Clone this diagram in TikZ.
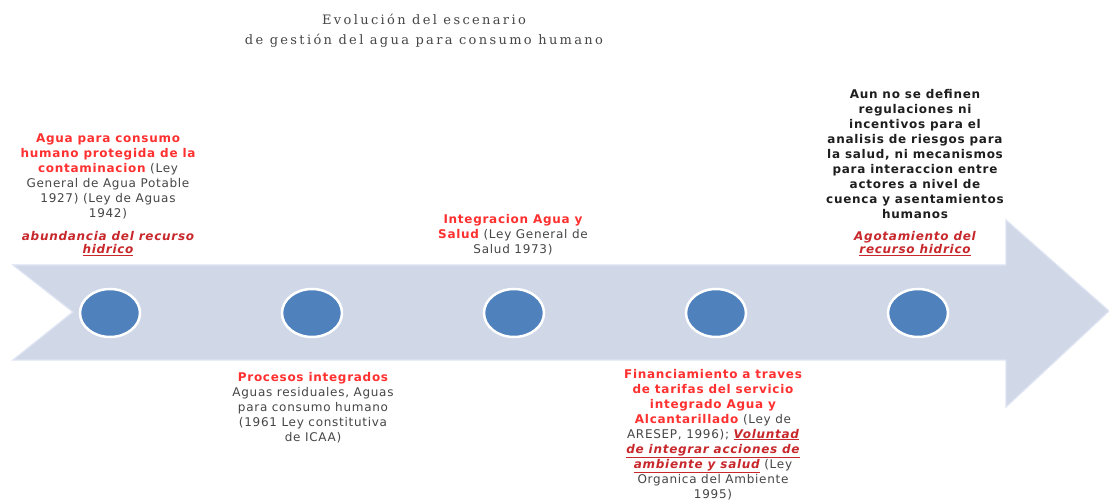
\documentclass[tikz,border=0pt]{standalone}
\usepackage{fontspec}
\setmainfont{DejaVu Sans}[LetterSpace=6]
\newfontfamily\titlefont[LetterSpace=18]{DejaVu Serif}
\usetikzlibrary{shapes.geometric}
\definecolor{arrowfill}{RGB}{208,216,232}
\definecolor{arrowedge}{RGB}{222,228,242}
\definecolor{dotblue}{RGB}{79,129,189}
\definecolor{hired}{RGB}{255,48,48}
\definecolor{darkred}{RGB}{200,40,44}
\definecolor{txtgray}{RGB}{70,70,70}
\definecolor{txtdark}{RGB}{30,30,30}
\newcommand{\rb}[1]{\textcolor{hired}{\bfseries #1}}
\newcommand{\ri}[1]{\textcolor{darkred}{\bfseries\itshape #1}}
\newcommand{\riu}[1]{\textcolor{darkred}{\underline{\bfseries\itshape #1}}}
\begin{document}
\begin{tikzpicture}[x=1bp,y=-1bp,
  dot/.style={ellipse,fill=dotblue,draw=white,line width=2.5bp,minimum width=60bp,minimum height=48bp,inner sep=0},
  txt/.style={align=center,inner sep=0,anchor=base,text=txtgray,font=\fontsize{12bp}{15bp}\selectfont},
  itx/.style={align=center,inner sep=0,anchor=base,font=\fontsize{12bp}{13bp}\selectfont}]
\useasboundingbox (0,0) rectangle (1109,500);
\fill[white] (0,0) rectangle (1109,500);
% arrow
\filldraw[fill=arrowfill,draw=arrowedge,line width=1.2bp]
  (13,265) -- (1006,265) -- (1006,220) -- (1109,311) -- (1006,407) -- (1006,360) -- (13,360) -- (73,312) -- cycle;
% dots
\node[dot] (d1) at (110,313) {};
\node[dot] (d2) at (312,313) {};
\node[dot] (d3) at (514,313) {};
\node[dot] (d4) at (716,313) {};
\node[dot] (d5) at (918,313) {};
% title (anchor base = last line)
\node[align=center,inner sep=0,anchor=base,text=txtgray,font=\titlefont\fontsize{13bp}{20bp}\selectfont] (title) at (424,45)
  {Evolución del escenario\\de gestión del agua para consumo humano};
% texts (anchor base = baseline of last line)
\node[txt] (t1) at (108,218)
  {\rb{Agua para consumo}\\\rb{humano protegida de la}\\\rb{contaminacion} (Ley\\General de Agua Potable\\1927) (Ley de Aguas\\1942)};
\node[itx] (t1i) at (108,254) {\ri{abundancia del recurso}\\\riu{hidrico}};
\node[txt] (t2) at (313,441)
  {\rb{Procesos integrados}\\Aguas residuales, Aguas\\para consumo humano\\(1961 Ley constitutiva\\de ICAA)};
\node[txt] (t3) at (513,254)
  {\rb{Integracion Agua y}\\\rb{Salud} (Ley General de\\Salud 1973)};
\node[txt] (t4) at (713,498)
  {\rb{Financiamiento a traves}\\\rb{de tarifas del servicio}\\\rb{integrado Agua y}\\\rb{Alcantarillado} (Ley de\\ARESEP, 1996); \riu{Voluntad}\\\riu{de integrar acciones de}\\\riu{ambiente y salud} (Ley\\Organica del Ambiente\\1995)};
\node[txt,text=txtdark,font=\bfseries\fontsize{12bp}{15bp}\selectfont] (t5) at (915,219)
  {Aun no se definen\\regulaciones ni\\incentivos para el\\analisis de riesgos para\\la salud, ni mecanismos\\para interaccion entre\\actores a nivel de\\cuenca y asentamientos\\humanos};
\node[itx] (t5i) at (915,254) {\ri{Agotamiento del}\\\riu{recurso hidrico}};
\end{tikzpicture}
\end{document}
